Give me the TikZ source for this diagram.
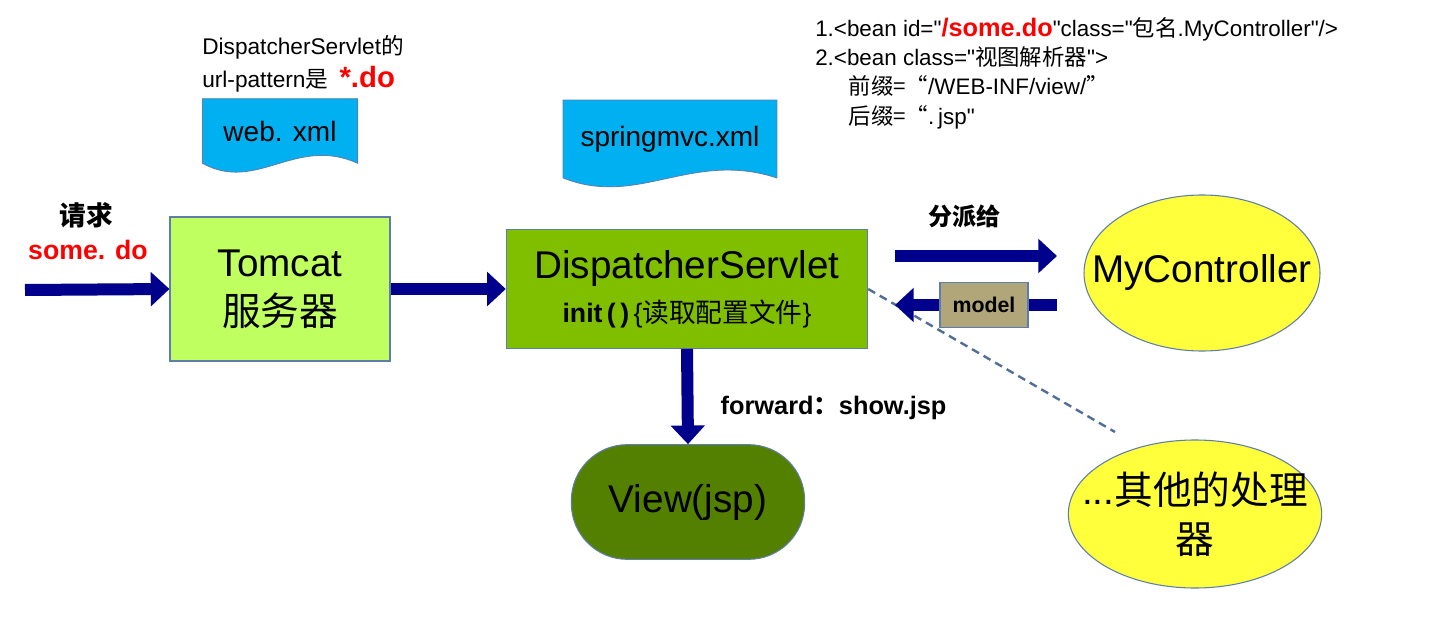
\documentclass[tikz,border=0pt]{standalone}
\usepackage{fontspec}
\setmainfont{Liberation Sans}[Ligatures=TeXOff]
\newfontfamily\cjk{Noto Sans CJK SC}
\newcommand{\zh}[1]{{\cjk #1}}
\usetikzlibrary{arrows.meta,shapes.geometric,calc,backgrounds}

\definecolor{boxline}{RGB}{95,125,170}
\definecolor{tomgreen}{RGB}{191,255,96}
\definecolor{dsgreen}{RGB}{128,190,0}
\definecolor{docblue}{RGB}{0,176,240}
\definecolor{ovalyellow}{RGB}{255,255,60}
\definecolor{viewgreen}{RGB}{84,128,0}
\definecolor{modeltan}{RGB}{176,166,122}
\definecolor{arrowblue}{RGB}{0,0,140}
\definecolor{dashblue}{RGB}{80,110,150}

\tikzset{
  box/.style={draw=boxline,line width=0.8pt,inner sep=0pt,align=center,
    font=\fontsize{29}{37}\selectfont},
  docnode/.style={inner sep=0pt,font=\fontsize{21}{25}\selectfont},
  oval/.style={ellipse,draw=boxline,line width=0.8pt,fill=ovalyellow,
    inner sep=0pt,align=center,font=\fontsize{29}{37}\selectfont},
  bigarrow/.style={draw=arrowblue,line width=9pt,-{Triangle[length=14pt,width=25pt]}},
  shaft/.style={draw=arrowblue,line width=9pt},
  dashlink/.style={draw=dashblue,line width=1.8pt,dash pattern=on 6pt off 4pt},
  tag/.style={font=\bfseries\fontsize{18}{21}\selectfont}
}

\begin{document}
\begin{tikzpicture}[x=0.75pt,y=-0.75pt]
\useasboundingbox (0,0) rectangle (1444,627);

% main boxes
\node[box,fill=tomgreen,minimum width=165pt,minimum height=108pt] (tomcat) at (280,289) {Tomcat\\\zh{服务器}};
\node[box,fill=dsgreen,minimum width=271pt,minimum height=89pt] (ds) at (687,289)
  {{\fontsize{29}{34}\selectfont DispatcherServlet}\\[-4pt]
   {\fontsize{20}{23}\selectfont\bfseries init\,(\,)\,\mdseries\{\zh{读取配置文件}\}}};
\node[box,fill=viewgreen,rounded corners=42pt,minimum width=175pt,minimum height=86pt] (view) at (688,502) {View(jsp)};
\node[oval,minimum width=177pt,minimum height=117pt] (mc) at (1202,273) {\makebox[0pt]{MyController}};
\node[oval,minimum width=190pt,minimum height=111pt] (other) at (1195,514)
  {\makebox[0pt]{...\zh{其他的处理}}\\\makebox[0pt]{\zh{器}}};

% config files
\node[docnode,minimum width=116pt,minimum height=48pt] (web) at (280,131) {web. xml};
\node[docnode,minimum width=160pt,minimum height=58pt] (spring) at (670,139) {springmvc.xml};
\begin{scope}[on background layer]
\fill[white] (0,0) rectangle (1444,627);
\foreach \d in {web,spring}
  \draw[boxline,line width=0.6pt,fill=docblue] (\d.north west) -- (\d.north east) -- (\d.south east)
    .. controls ($(\d.south west)!0.6!(\d.south east)+(0,-28)$) and ($(\d.south west)!0.35!(\d.south east)+(0,30)$) .. (\d.south west) -- cycle;
\end{scope}

% free ends
\coordinate (reqstart) at (25,290);
\coordinate (dispstart) at (895,256);
\coordinate (dispend) at (1057,256);
\coordinate (retstart) at (1057,305);
\coordinate (retend) at (895,305);
\coordinate (dashend) at (1115,432);

% connectors
\draw[dashlink] (ds.east) -- (dashend);
\draw[bigarrow] (reqstart) -- (tomcat.west);
\draw[bigarrow] (tomcat.east) -- (ds.west);
\draw[bigarrow] (dispstart) -- (dispend);
\draw[bigarrow] (ds.south) -- (view.north);
\node[box,fill=modeltan,minimum width=66pt,minimum height=34pt,font=\bfseries\fontsize{16}{19}\selectfont] (model) at (984,305) {model};
\draw[shaft] (retstart) -- (model.east);
\draw[bigarrow] (model.west) -- (retend);

% labels
\node[tag,font=\bfseries\fontsize{20}{23}\selectfont] (reqlabel) at (86,215) {\zh{请求}};
\node[font=\bfseries\fontsize{20}{24}\selectfont,text=red] (requrl) at (88,250) {some. do};
\node[tag] (displabel) at (964,216) {\zh{分派给}};
\node[anchor=west,font=\bfseries\fontsize{19}{22}\selectfont] (fwdlabel) at (716,408) {forward\zh{：}show.jsp};
\node[anchor=north west,align=left,inner sep=0pt,font=\fontsize{17}{25}\selectfont] (webnote) at (202,35)
  {DispatcherServlet\zh{的}\\url-pattern\zh{是}\enspace{\color{red}\bfseries\fontsize{22}{25}\selectfont *.do}};
\node[anchor=north west,align=left,inner sep=0pt,font=\fontsize{16.8}{22}\selectfont] (beannote) at (815,17)
  {1.<bean id="{\color{red}\bfseries\fontsize{19}{22}\selectfont/some.do}"class="\zh{包名}.MyController"/>\\
   2.<bean class="\zh{视图解析器}">\\
   \hspace*{25pt}\zh{前缀=“}/WEB-INF/view/\zh{”}\\
   \hspace*{25pt}\zh{后缀=“}.\,jsp"};
\end{tikzpicture}
\end{document}
